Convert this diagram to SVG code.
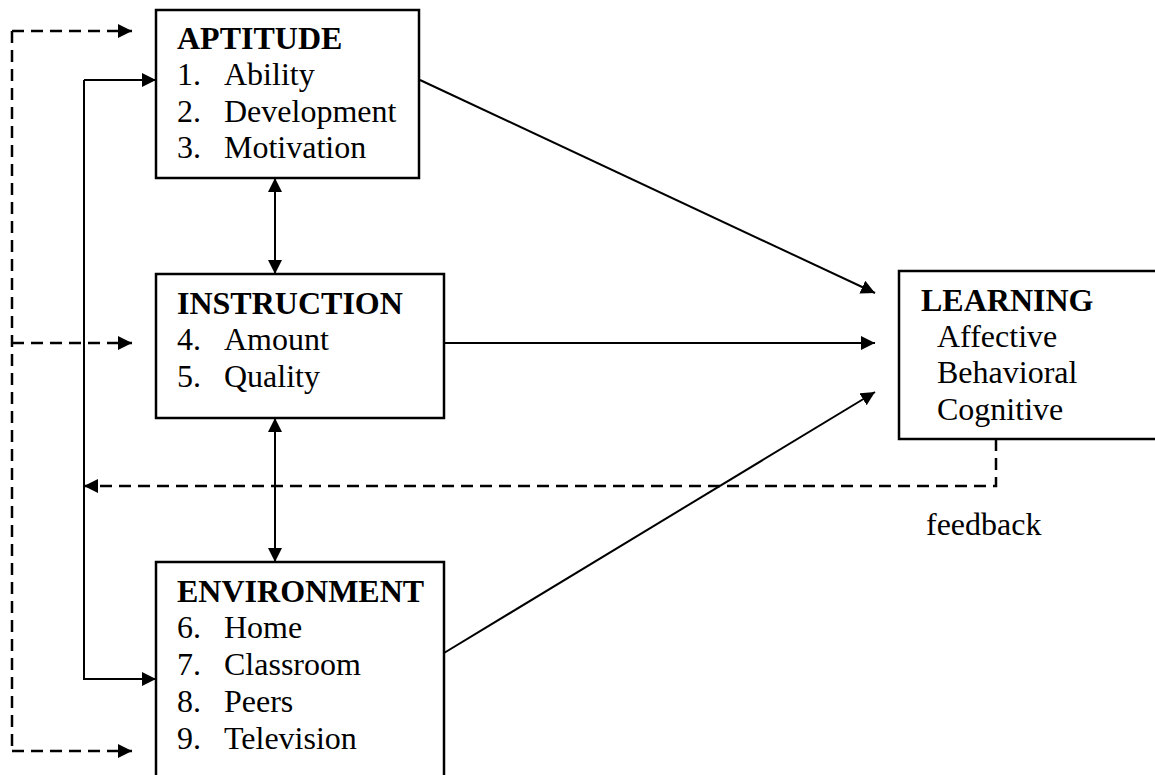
<svg xmlns="http://www.w3.org/2000/svg" width="1155" height="775" viewBox="0 0 1155 775">
<defs>
<marker id="ah" markerUnits="userSpaceOnUse" markerWidth="16" markerHeight="16" refX="14" refY="7" orient="auto-start-reverse">
<path d="M0,0 L14,7 L0,14 Z" fill="#000"/>
</marker>
<style>
.box{fill:#fff;stroke:#000;stroke-width:2.5}
.t{font-family:"Liberation Serif","Times New Roman",serif;font-size:32px;fill:#000}
.b{font-weight:bold}
.c{fill:none;stroke:#000;stroke-width:2}
.d{stroke-dasharray:12,7;stroke-width:2.5}
.e{marker-end:url(#ah)}
.s{marker-start:url(#ah)}
</style>
</defs>
<rect width="1155" height="775" fill="#fff"/>
<g id="connectors">
<path class="c d e" d="M12,31 H132"/>
<path class="c d" d="M12,31 V751"/>
<path class="c d e" d="M12,343 H132"/>
<path class="c d e" d="M12,751 H132"/>
<path class="c e" d="M84,80 H156"/>
<path class="c e" d="M84,80 V679 H156"/>
<path class="c d e" d="M996,439 V486 H84"/>
<path class="c s e" d="M275,178 V274"/>
<path class="c s e" d="M275,418 V562"/>
<path class="c e" d="M420,80 L875,293"/>
<path class="c e" d="M444,343 H875"/>
<path class="c e" d="M444,653 L875,392"/>
</g>
<g id="aptitude">
<rect class="box" x="156" y="10" width="263" height="168"/>
<text class="t b" x="177" y="49">APTITUDE</text>
<text class="t" x="177" y="85">1.</text><text class="t" x="224" y="85">Ability</text>
<text class="t" x="177" y="122">2.</text><text class="t" x="224" y="122">Development</text>
<text class="t" x="177" y="158">3.</text><text class="t" x="224" y="158">Motivation</text>
</g>
<g id="instruction">
<rect class="box" x="156" y="274" width="288" height="144"/>
<text class="t b" x="177" y="314">INSTRUCTION</text>
<text class="t" x="177" y="350">4.</text><text class="t" x="224" y="350">Amount</text>
<text class="t" x="177" y="387">5.</text><text class="t" x="224" y="387">Quality</text>
</g>
<g id="environment">
<rect class="box" x="156" y="562" width="288" height="230"/>
<text class="t b" x="177" y="602">ENVIRONMENT</text>
<text class="t" x="177" y="638">6.</text><text class="t" x="224" y="638">Home</text>
<text class="t" x="177" y="675">7.</text><text class="t" x="224" y="675">Classroom</text>
<text class="t" x="177" y="712">8.</text><text class="t" x="224" y="712">Peers</text>
<text class="t" x="177" y="749">9.</text><text class="t" x="224" y="749">Television</text>
</g>
<g id="learning">
<rect class="box" x="899" y="271" width="270" height="168"/>
<text class="t b" x="921" y="311">LEARNING</text>
<text class="t" x="937" y="347">Affective</text>
<text class="t" x="937" y="383">Behavioral</text>
<text class="t" x="937" y="420">Cognitive</text>
</g>
<g id="feedback-label">
<text class="t" x="926" y="535">feedback</text>
</g>
</svg>
